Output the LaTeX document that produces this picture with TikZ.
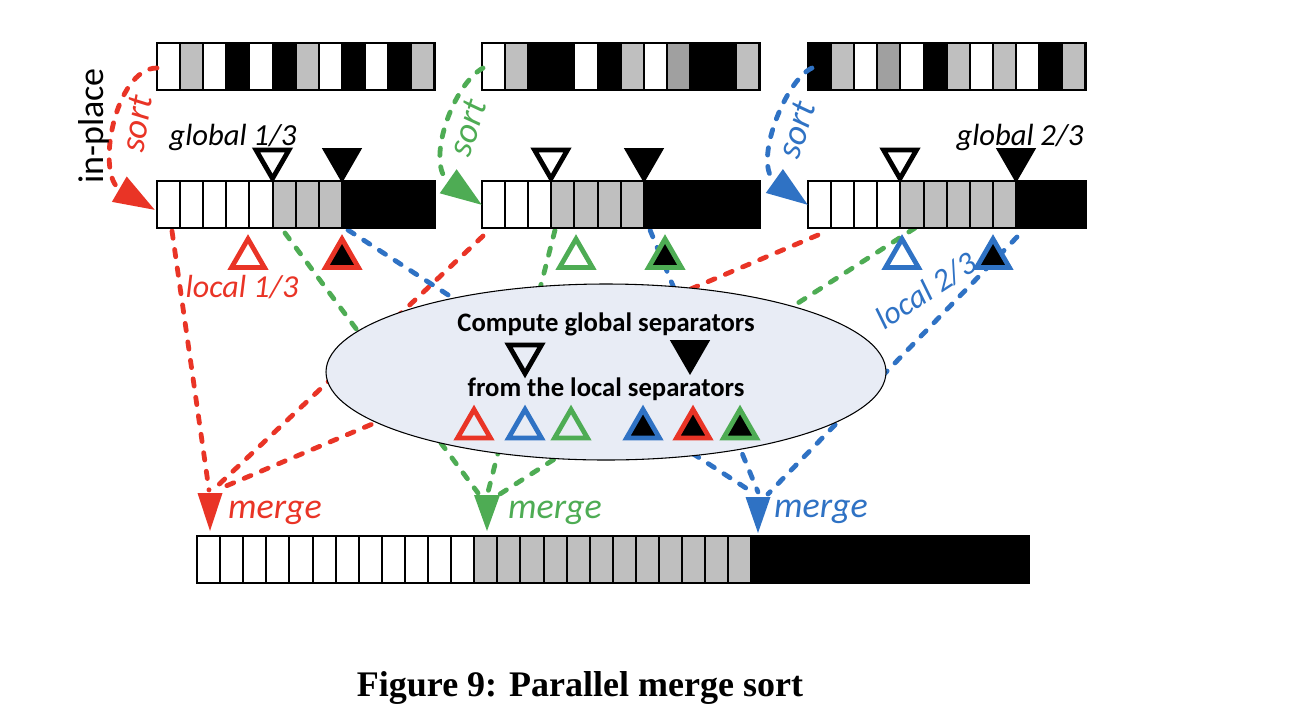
\documentclass[tikz,border=0pt]{standalone}
\usepackage{fontspec}
\setmainfont{Carlito}
\newfontfamily\capfont{Liberation Serif}
\usetikzlibrary{arrows.meta,shapes.geometric}

\definecolor{sepred}{RGB}{233,52,38}
\definecolor{sepgreen}{RGB}{78,172,84}
\definecolor{sepblue}{RGB}{47,114,196}
\definecolor{cellW}{RGB}{255,255,255}
\definecolor{cellG}{RGB}{191,191,191}
\definecolor{cellD}{RGB}{160,160,160}
\definecolor{cellK}{RGB}{0,0,0}
\definecolor{ovalfill}{RGB}{232,236,245}

% one row of 23.1-wide cells, colours given as letters W/G/D/K
\newcommand\cellrow[3]{%
  \foreach \c [count=\i from 0] in {#3} {
    \fill[cell\c] ({#1+\i*23.1},#2) rectangle ++(23.1,47);
    \draw[line width=1.5pt] ({#1+\i*23.1},#2) rectangle ++(23.1,47);
  }
}
\newcommand\rowframe[3]{\draw[line width=2.2pt] (#1,#2) rectangle ++({#3*23.1},47);}

\tikzset{
  flow/.style={line width=3.6pt, dash pattern=on 5.5pt off 8.5pt, line cap=round},
  sorttip/.style={-{Triangle[length=31pt,width=21pt]}},
  lbl/.style={inner sep=0pt, font=\fontsize{23pt}{27pt}\selectfont\itshape},
  sortlbl/.style={inner sep=0pt, font=\fontsize{27pt}{32pt}\selectfont\itshape},
  mergelbl/.style={inner sep=0pt, font=\fontsize{27pt}{32pt}\selectfont\itshape},
  locallbl/.style={inner sep=0pt, font=\fontsize{24pt}{28pt}\selectfont\itshape},
  boldlbl/.style={inner sep=0pt, font=\fontsize{20pt}{24pt}\selectfont\bfseries},
  sepup/.style={regular polygon, regular polygon sides=3, minimum size=28.5pt,
    inner sep=0pt, outer sep=0pt, line width=3.6pt, anchor=corner 1},
  sepdown/.style={sepup, shape border rotate=180},
  solidown/.style={regular polygon, regular polygon sides=3, shape border rotate=180,
    minimum size=35pt, inner sep=0pt, outer sep=0pt, fill=black, anchor=corner 1},
}

\begin{document}
\begin{tikzpicture}[x=0.75pt,y=-0.75pt]
\useasboundingbox (0,0) rectangle (1298,722);

% ---- connector end points ----
\coordinate (r1a) at (172,231); \coordinate (r2a) at (483,236); \coordinate (r3a) at (818,235);
\coordinate (g1a) at (285,233); \coordinate (g2a) at (555,230); \coordinate (g3a) at (915,228);
\coordinate (b1a) at (348,230); \coordinate (b2a) at (650,230); \coordinate (b3a) at (1017,237);
\coordinate (r1e) at (209,490); \coordinate (r2e) at (213,490); \coordinate (r3e) at (219,489);
\coordinate (g1e) at (478,493); \coordinate (g2e) at (488,492); \coordinate (g3e) at (500,494);
\coordinate (b1e) at (752,492); \coordinate (b2e) at (758,492); \coordinate (b3e) at (768,494);
\coordinate (rtip) at (210,531); \coordinate (gtip) at (487,531); \coordinate (btip) at (758,533);

% ---- merge connectors ----
\draw[flow, sepred] (r1a) -- (r1e);
\draw[flow, sepred] (r2a) -- (r2e);
\draw[flow, sepred] (r3a) -- (r3e);
\draw[flow, sepgreen] (g1a) -- (g1e);
\draw[flow, sepgreen] (g2a) -- (g2e);
\draw[flow, sepgreen] (g3a) -- (g3e);
\draw[flow, sepblue] (b1a) -- (b1e);
\draw[flow, sepblue] (b2a) -- (b2e);
\draw[flow, sepblue] (b3a) -- (b3e);

% merge arrow heads
\fill[sepred] (rtip) -- ++(-12.5,-38) -- ++(25,0) -- cycle;
\fill[sepgreen] (gtip) -- ++(-13,-36) -- ++(26,0) -- cycle;
\fill[sepblue] (btip) -- ++(-12.5,-36) -- ++(25,0) -- cycle;

% ---- separator computation ----
\node[ellipse, draw, line width=0.8pt, fill=ovalfill, minimum width=420pt,
      minimum height=132pt, inner sep=0pt] (comp) at (606,372) {};
\node[boldlbl] (comptxt) at (606,324) {Compute global separators};
\node[boldlbl] (fromtxt) at (606,389) {from the local separators};
\node[sepdown, draw=black] (cgo) at (525,373.5) {};
\node[solidown] (cgf) at (690,375) {};
\node[sepup, draw=sepred]   (cro) at (474,409.5) {};
\node[sepup, draw=sepblue]  (cbo) at (525,409.5) {};
\node[sepup, draw=sepgreen] (cgo2) at (571,409.5) {};
\node[sepup, draw=sepblue,  fill=black] (cbf) at (643,409.5) {};
\node[sepup, draw=sepred,   fill=black] (crf) at (693,409.5) {};
\node[sepup, draw=sepgreen, fill=black] (cgf2) at (740,409.5) {};

% ---- local separators ----
\node[sepup, draw=sepred]   (lro) at (248,239) {};
\node[sepup, draw=sepred,   fill=black] (lrf) at (342,239) {};
\node[sepup, draw=sepgreen] (lgo) at (576,239) {};
\node[sepup, draw=sepgreen, fill=black] (lgf) at (665,239) {};
\node[sepup, draw=sepblue]  (lbo) at (902,239) {};
\node[sepup, draw=sepblue,  fill=black] (lbf) at (993,239) {};

% ---- input blocks ----
\cellrow{157}{43}{W,G,W,K,W,K,G,W,K,W,K,G}\rowframe{157}{43}{12}
\cellrow{482}{43}{W,G,K,K,W,K,G,W,D,K,K,G}\rowframe{482}{43}{12}
\cellrow{808}{43}{K,G,W,D,W,K,G,W,G,W,K,G}\rowframe{808}{43}{12}

% ---- sorted blocks ----
\cellrow{157}{181}{W,W,W,W,W,G,G,G,K,K,K,K}\rowframe{157}{181}{12}
\cellrow{482}{181}{W,W,W,G,G,G,G,K,K,K,K,K}\rowframe{482}{181}{12}
\cellrow{808}{181}{W,W,W,W,G,G,G,G,G,K,K,K}\rowframe{808}{181}{12}

% ---- merged output ----
\cellrow{197}{536}{W,W,W,W,W,W,W,W,W,W,W,W,G,G,G,G,G,G,G,G,G,G,G,G,K,K,K,K,K,K,K,K,K,K,K,K}
\rowframe{197}{536}{36}

% ---- global separators ----
\node[sepdown, draw=black] (g1o) at (272.5,178.5) {};
\node[solidown] (g1f) at (342,183) {};
\node[sepdown, draw=black] (g2o) at (551,178.5) {};
\node[solidown] (g2f) at (644,183) {};
\node[sepdown, draw=black] (g3o) at (900,178.5) {};
\node[solidown] (g3f) at (1016,183) {};

% ---- in-place sort arrows ----
\coordinate (sr0) at (157,68); \coordinate (sr1) at (155,210);
\coordinate (sg0) at (483,68); \coordinate (sg1) at (482,205);
\coordinate (sb0) at (812,68); \coordinate (sb1) at (808,205);
\draw[flow, sepred, sorttip] (sr0) .. controls (115,68) and (95,175) .. (sr1);
\draw[flow, sepgreen, sorttip] (sg0) .. controls (452,85) and (425,165) .. (sg1);
\draw[flow, sepblue, sorttip] (sb0) .. controls (785,80) and (752,165) .. (sb1);

% ---- labels ----
\node[inner sep=0pt, font=\fontsize{27pt}{32pt}\selectfont, rotate=90] (inplace) at (94,126) {in-place};
\node[sortlbl, sepred, rotate=80] (sortr) at (137,124) {sort};
\node[sortlbl, sepgreen, rotate=72] (sortg) at (468,128) {sort};
\node[sortlbl, sepblue, rotate=72] (sortb) at (797,130) {sort};
\node[lbl] (glob1) at (233,137) {global 1/3};
\node[lbl] (glob2) at (1020,137) {global 2/3};
\node[locallbl, sepred] (loc1) at (242,287) {local 1/3};
\node[locallbl, sepblue, rotate=33] (loc2) at (926,291) {local 2/3};
\node[mergelbl, sepred] (mr) at (275,513) {merge};
\node[mergelbl, sepgreen] (mg) at (555,513) {merge};
\node[mergelbl, sepblue] (mb) at (821,512) {merge};

\node[inner sep=0pt, font=\capfont\fontsize{27pt}{32pt}\selectfont\bfseries] (cap) at (580,688)
  {Figure 9: Parallel merge sort};
\end{tikzpicture}
\end{document}
